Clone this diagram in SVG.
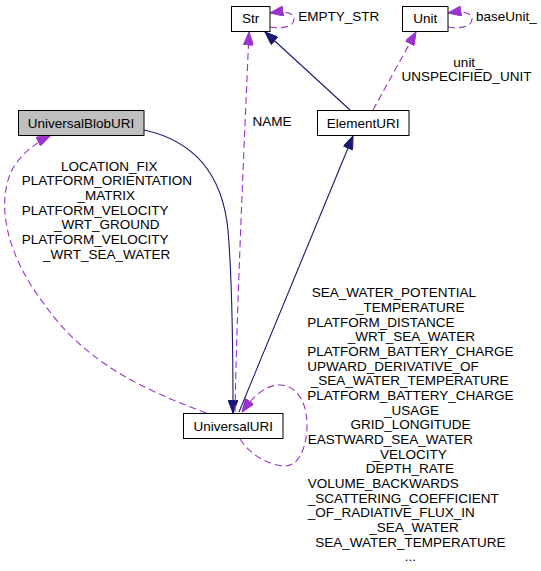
<svg xmlns="http://www.w3.org/2000/svg" width="541" height="571" viewBox="0 0 541 571">
<style>
text{font-family:"Liberation Sans",Arial,Helvetica,sans-serif;font-size:13.5px;fill:#000}
.box{fill:#fff;stroke:#000;stroke-width:1}
.gray{fill:#bfbfbf}
.inh{fill:none;stroke:#191970;stroke-width:1.1}
.use{fill:none;stroke:#9a32cd;stroke-width:1.1;stroke-dasharray:7,4}
.m{text-anchor:middle}
</style>
<defs>
<marker id="an" markerUnits="userSpaceOnUse" markerWidth="14" markerHeight="10" viewBox="0 0 13 10" refX="13" refY="5" orient="auto"><path d="M0,0 L13,5 L0,10 z" fill="#191970" stroke="#191970"/></marker>
<marker id="ap" markerUnits="userSpaceOnUse" markerWidth="14" markerHeight="10" viewBox="0 0 13 10" refX="13" refY="5" orient="auto"><path d="M0,0 L13,5 L0,10 z" fill="#9a32cd" stroke="#9a32cd"/></marker>
</defs>
<g id="edges">
<path class="inh" d="M144,130 C190,140 222,170 228,230 C233,290 233,360 233,413" marker-end="url(#an)"/>
<path class="inh" d="M239,412 L353,136" marker-end="url(#an)"/>
<path class="inh" d="M350,110 L265,32" marker-end="url(#an)"/>
<path class="use" d="M373,110 L416,32" marker-end="url(#ap)"/>
<path class="use" d="M235,412 C237,300 244,150 249,32" marker-end="url(#ap)"/>
<path class="use" d="M270,27 C282,29 294,27 294,19 C294,12 284,11 270,13" marker-end="url(#ap)"/>
<path class="use" d="M448,27 C460,29 472,27 472,19 C472,12 462,11 448,13" marker-end="url(#ap)"/>
<path class="use" d="M206,413 C160,395 90,370 45,305 C8,258 -5,205 12,170 C20,155 35,143 50,136" marker-end="url(#ap)"/>
<path class="use" d="M240,439 C250,455 270,466 285,466 C300,466 307,445 307,425 C307,400 295,385 280,385 C266,385 254,395 242,412" marker-end="url(#ap)"/>
<text x="252.5" y="125.5">NAME</text>
<text x="298.3" y="21.3">EMPTY_STR</text>
<text x="476" y="21.3">baseUnit_</text>
<text class="m" x="468" y="66.5">unit_</text>
<text class="m" x="466.5" y="81">UNSPECIFIED_UNIT</text>
<text class="m" x="109.2" y="170.7">LOCATION_FIX</text>
<text class="m" x="107" y="185.3">PLATFORM_ORIENTATION</text>
<text class="m" x="106.3" y="200">_MATRIX</text>
<text x="21.7" y="214.7">PLATFORM_VELOCITY</text>
<text class="m" x="106.7" y="229.3">_WRT_GROUND</text>
<text x="21.7" y="244">PLATFORM_VELOCITY</text>
<text class="m" x="106.7" y="258.7">_WRT_SEA_WATER</text>
<text x="311.7" y="297.3">SEA_WATER_POTENTIAL</text>
<text class="m" x="410.3" y="312">_TEMPERATURE</text>
<text x="307.3" y="326.6">PLATFORM_DISTANCE</text>
<text class="m" x="411.3" y="341.3">_WRT_SEA_WATER</text>
<text class="m" x="410.3" y="356">PLATFORM_BATTERY_CHARGE</text>
<text x="307.3" y="370.6">UPWARD_DERIVATIVE_OF</text>
<text class="m" x="409.7" y="385.3">_SEA_WATER_TEMPERATURE</text>
<text class="m" x="410.3" y="400">PLATFORM_BATTERY_CHARGE</text>
<text class="m" x="411.5" y="414.7">_USAGE</text>
<text class="m" x="410.5" y="429.3">GRID_LONGITUDE</text>
<text x="307.7" y="444">EASTWARD_SEA_WATER</text>
<text class="m" x="409.7" y="458.7">_VELOCITY</text>
<text class="m" x="410" y="473.3">DEPTH_RATE</text>
<text x="307.7" y="488">VOLUME_BACKWARDS</text>
<text x="307.7" y="502.7">_SCATTERING_COEFFICIENT</text>
<text x="307.7" y="517.3">_OF_RADIATIVE_FLUX_IN</text>
<text class="m" x="414" y="532">_SEA_WATER</text>
<text class="m" x="410.3" y="546.7">SEA_WATER_TEMPERATURE</text>
<text class="m" x="410.5" y="561.3">...</text>
</g>
<g id="UniversalBlobURI">
<rect class="box gray" x="18.5" y="110.5" width="125.5" height="25"/>
<text class="m" x="81" y="127.5">UniversalBlobURI</text>
</g>
<g id="Str">
<rect class="box" x="231.5" y="6.5" width="38.5" height="25"/>
<text class="m" x="250.7" y="23.3">Str</text>
</g>
<g id="Unit">
<rect class="box" x="402.5" y="6.5" width="45.5" height="25"/>
<text class="m" x="425.3" y="23.3">Unit</text>
</g>
<g id="ElementURI">
<rect class="box" x="317.5" y="110.5" width="91.5" height="25"/>
<text class="m" x="363.2" y="127.5">ElementURI</text>
</g>
<g id="UniversalURI">
<rect class="box" x="183.5" y="413.5" width="99.5" height="25"/>
<text class="m" x="233.2" y="430.5">UniversalURI</text>
</g>
</svg>
